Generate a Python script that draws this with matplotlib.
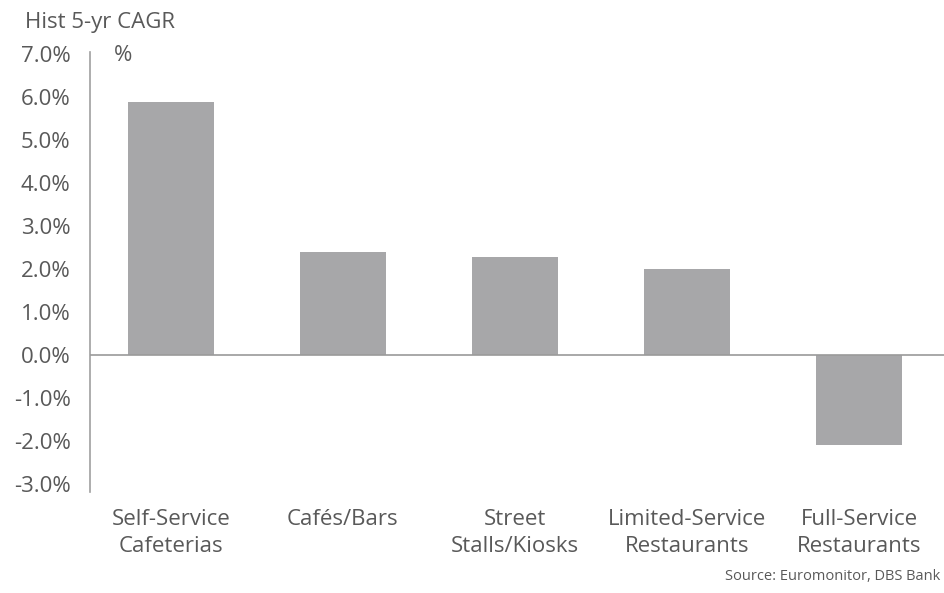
import matplotlib.pyplot as plt
import numpy as np

categories = ['Self-Service\nCafeterias', 'Cafés/Bars', 'Street\nStalls/Kiosks',
              'Limited-Service\nRestaurants', 'Full-Service\nRestaurants']
cagr = [5.9, 2.4, 2.27, 2.0, -2.1]
yticks = [-3, -2, -1, 0, 1, 2, 3, 4, 5, 6, 7]

plt.rcParams['font.family'] = ['Open Sans', 'DejaVu Sans']
txt = '#595959'
fs = 16

fig = plt.figure(figsize=(9.45, 5.93), dpi=100)
ax = fig.add_axes([0.0952, 0.170, 0.9048, 0.742])

x = np.arange(len(categories))
ax.bar(x, cagr, width=0.5, color='#a7a7a9', zorder=2)
ax.axhline(0, color='#9a9a9a', lw=1.2, zorder=3)

ax.set_xlim(-0.47, 4.5)
ax.set_ylim(-3.2, 7.05)
ax.set_yticks(yticks)
ax.set_yticklabels(['%.1f%%' % v for v in yticks], fontsize=fs, color=txt)
ax.set_xticks(x)
ax.set_xticklabels(categories, fontsize=fs, color=txt, linespacing=1.4)
ax.tick_params(axis='both', length=0)
ax.tick_params(axis='y', pad=14)
ax.tick_params(axis='x', pad=12)

for s in ['top', 'right', 'bottom']:
    ax.spines[s].set_visible(False)
ax.spines['left'].set_color('#a0a0a0')
ax.spines['left'].set_linewidth(1.2)

fig.text(0.026, 0.962, 'Hist 5-yr CAGR', fontsize=fs, color=txt, va='center')
fig.text(0.121, 0.907, '%', fontsize=fs, color=txt, va='center')
fig.text(0.995, 0.027, 'Source: Euromonitor, DBS Bank', fontsize=10.5, color=txt,
         ha='right', va='center')

fig.savefig('out.png', dpi=100)
